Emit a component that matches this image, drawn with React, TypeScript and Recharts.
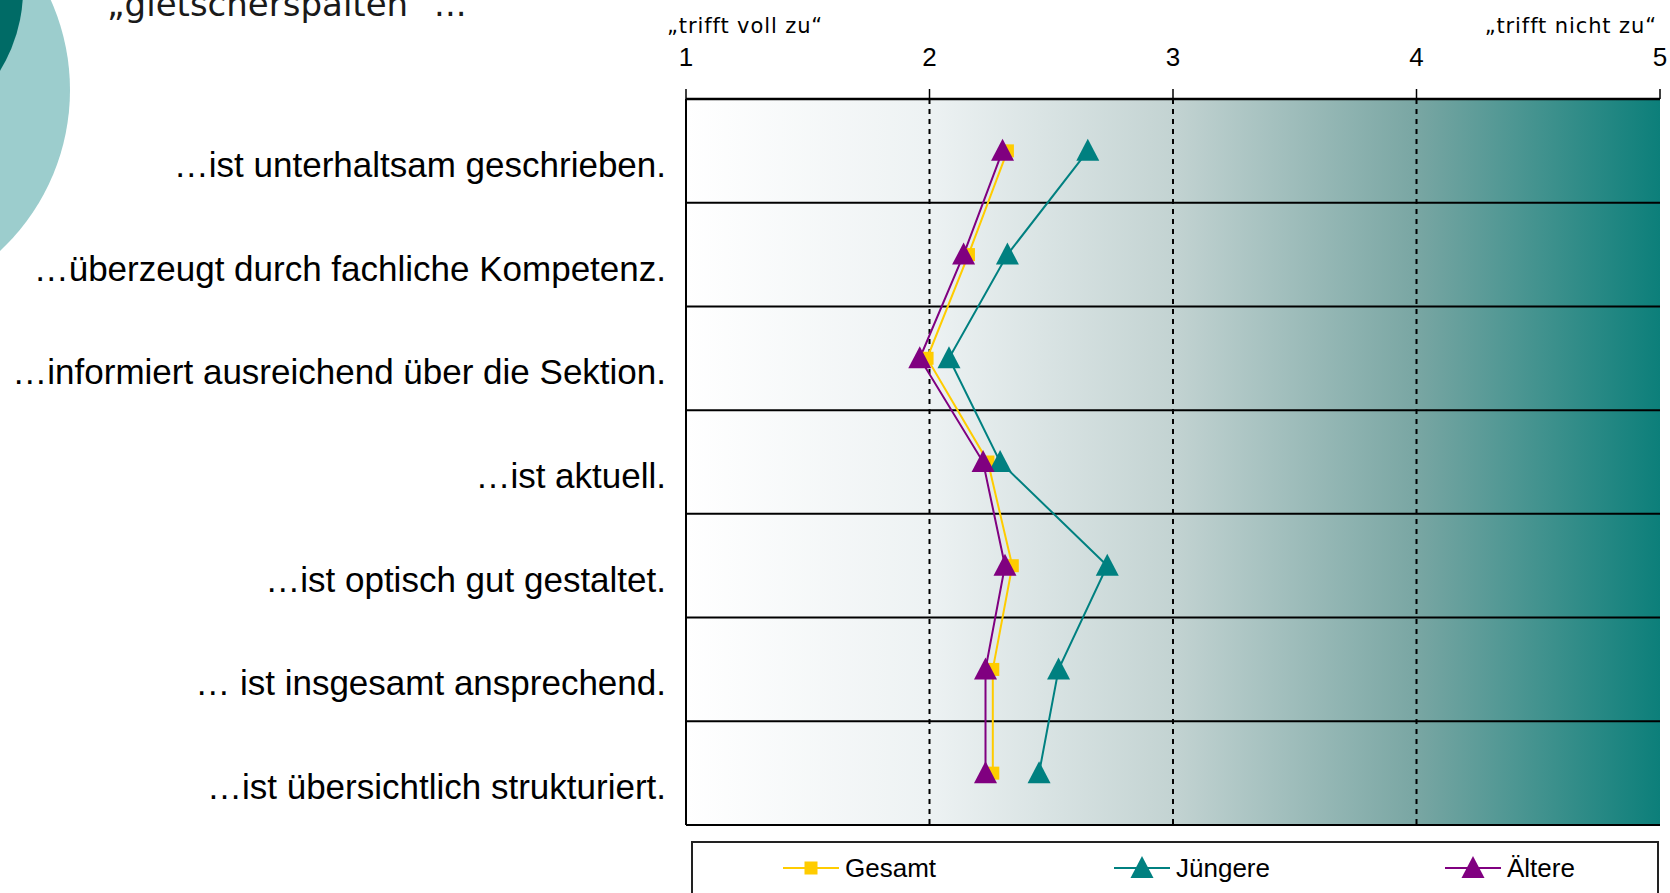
import { LineChart, Line, XAxis, YAxis, CartesianGrid, Legend } from "recharts";

const statements = [
  "…ist unterhaltsam geschrieben.",
  "…überzeugt durch fachliche Kompetenz.",
  "…informiert ausreichend über die Sektion.",
  "…ist aktuell.",
  "…ist optisch gut gestaltet.",
  "… ist insgesamt ansprechend.",
  "…ist übersichtlich strukturiert.",
];
const gesamt = [2.32, 2.16, 1.99, 2.24, 2.34, 2.26, 2.26];
const juengere = [2.65, 2.32, 2.08, 2.29, 2.73, 2.53, 2.45];
const aeltere = [2.3, 2.14, 1.96, 2.22, 2.31, 2.23, 2.23];

const scaleTicks = [1, 2, 3, 4, 5];
const dashedTicks = [1, 2, 3, 4];
const scaleEnds: Record<number, string> = { 1: "„trifft voll zu“", 5: "„trifft nicht zu“" };
const title = "„gletscherspalten“ ...";

const seriesKeys = ["gesamt", "juengere", "aeltere"];
const seriesNames = ["Gesamt", "Jüngere", "Ältere"];
const seriesColors = ["#ffcc00", "#008080", "#800080"];
const seriesMarkers = ["square", "triangle", "triangle"];

const data = statements.map((label, i) => ({
  label,
  gesamt: gesamt[i],
  juengere: juengere[i],
  aeltere: aeltere[i],
}));

const sans = "'Liberation Sans', Arial, sans-serif";
const verdanaLike = "'DejaVu Sans', Verdana, sans-serif";

function Marker({ cx, cy, kind, color }: any) {
  if (cx == null || cy == null) return null;
  if (kind === "square") {
    return <rect x={cx - 6.5} y={cy - 6.5} width={13} height={13} fill={color} />;
  }
  return (
    <polygon
      points={`${cx},${cy - 12} ${cx - 11.5},${cy + 10} ${cx + 11.5},${cy + 10}`}
      fill={color}
    />
  );
}

function StatementTick({ x, y, payload }: any) {
  return (
    <text x={x} y={y} dy={26} textAnchor="end" fontSize={35} fontFamily={sans} fill="#000">
      {payload.value}
    </text>
  );
}

function ScaleTick({ x, y, payload }: any) {
  const v = payload.value;
  const end = scaleEnds[v];
  return (
    <g>
      <text x={x} y={y} dy={-23} textAnchor="middle" fontSize={26} fontFamily={sans} fill="#000">
        {v}
      </text>
      {end && (
        <text
          x={v === 1 ? x - 19 : x - 3}
          y={y}
          dy={-56}
          textAnchor={v === 1 ? "start" : "end"}
          fontSize={21}
          letterSpacing={0.9}
          fontFamily={verdanaLike}
          fill="#000"
        >
          {end}
        </text>
      )}
    </g>
  );
}

function LegendBox() {
  return (
    <div
      style={{
        boxSizing: "border-box",
        height: 60,
        border: "2px solid #222",
        background: "#fff",
        display: "flex",
        alignItems: "center",
        paddingLeft: 90,
        paddingBottom: 6,
        overflow: "hidden",
      }}
    >
      {seriesNames.map((name, i) => (
        <div
          key={name}
          style={{ width: 331, flexShrink: 0, display: "flex", alignItems: "center" }}
        >
          <svg width={56} height={26}>
            <line x1={0} y1={13} x2={56} y2={13} stroke={seriesColors[i]} strokeWidth={2} />
            <Marker cx={28} cy={13} kind={seriesMarkers[i]} color={seriesColors[i]} />
          </svg>
          <span style={{ fontFamily: sans, fontSize: 26, color: "#000", marginLeft: 6 }}>{name}</span>
        </div>
      ))}
    </div>
  );
}

export default function App() {
  return (
    <div
      style={{
        position: "absolute",
        left: 0,
        top: 0,
        width: 1670,
        height: 893,
        overflow: "hidden",
        background: "#fff",
      }}
    >
      <svg width={640} height={300} style={{ position: "absolute", left: 0, top: 0 }}>
        <circle cx={-150} cy={90} r={220} fill="#9ccdcd" />
        <circle cx={-130} cy={-10} r={153} fill="#006b66" />
        <text x={107} y={16} fontSize={34} fontFamily={verdanaLike} fill="#1a1a1a">
          {title}
        </text>
      </svg>
      <div style={{ position: "absolute", left: 0, top: 0 }}>
        <LineChart
          width={1670}
          height={893}
          data={data}
          layout="vertical"
          margin={{ top: 0, right: 10, bottom: 8, left: 0 }}
        >
          <defs>
            <linearGradient id="scaleBg" x1="0" y1="0" x2="1" y2="0">
              <stop offset="0%" stopColor="#ffffff" />
              <stop offset="25%" stopColor="#edf2f3" />
              <stop offset="50%" stopColor="#c3d3d2" />
              <stop offset="75%" stopColor="#79a6a3" />
              <stop offset="100%" stopColor="#0c7f7a" />
            </linearGradient>
          </defs>
          <CartesianGrid
            vertical={false}
            fill="url(#scaleBg)"
            fillOpacity={1}
            stroke="#000"
            strokeWidth={2}
            horizontalCoordinatesGenerator={({ offset }: any) =>
              Array.from(
                { length: statements.length + 1 },
                (_, i) => offset.top + (offset.height * i) / statements.length
              )
            }
          />
          <CartesianGrid
            horizontal={false}
            stroke="#000"
            strokeWidth={2}
            strokeDasharray="5 5"
            verticalCoordinatesGenerator={({ xAxis, offset }: any) =>
              typeof xAxis?.scale === "function"
                ? dashedTicks.map((v) => xAxis.scale(v))
                : dashedTicks.map((v) => offset.left + ((v - 1) * offset.width) / 4)
            }
          />
          <XAxis
            type="number"
            orientation="top"
            domain={[1, 5]}
            ticks={scaleTicks}
            height={99}
            tickSize={10}
            tickMargin={0}
            tick={<ScaleTick />}
            axisLine={{ stroke: "#000", strokeWidth: 2.5 }}
            tickLine={{ stroke: "#000", strokeWidth: 1.5 }}
            interval={0}
          />
          <YAxis
            type="category"
            dataKey="label"
            scale="band"
            width={686}
            tickSize={0}
            tickMargin={20}
            tickLine={false}
            tick={<StatementTick />}
            axisLine={{ stroke: "#000", strokeWidth: 2 }}
            interval={0}
          />
          {seriesKeys.map((key, i) => (
            <Line
              key={key}
              dataKey={key}
              name={seriesNames[i]}
              type="linear"
              stroke={seriesColors[i]}
              strokeWidth={2}
              isAnimationActive={false}
              activeDot={false}
              dot={(p: any) => (
                <Marker
                  key={`${key}-${p.index}`}
                  cx={p.cx}
                  cy={p.cy}
                  kind={seriesMarkers[i]}
                  color={seriesColors[i]}
                />
              )}
            />
          ))}
          <Legend
            verticalAlign="bottom"
            content={<LegendBox />}
            wrapperStyle={{ left: 691, top: 841, width: 968, height: 60 }}
          />
        </LineChart>
      </div>
    </div>
  );
}
